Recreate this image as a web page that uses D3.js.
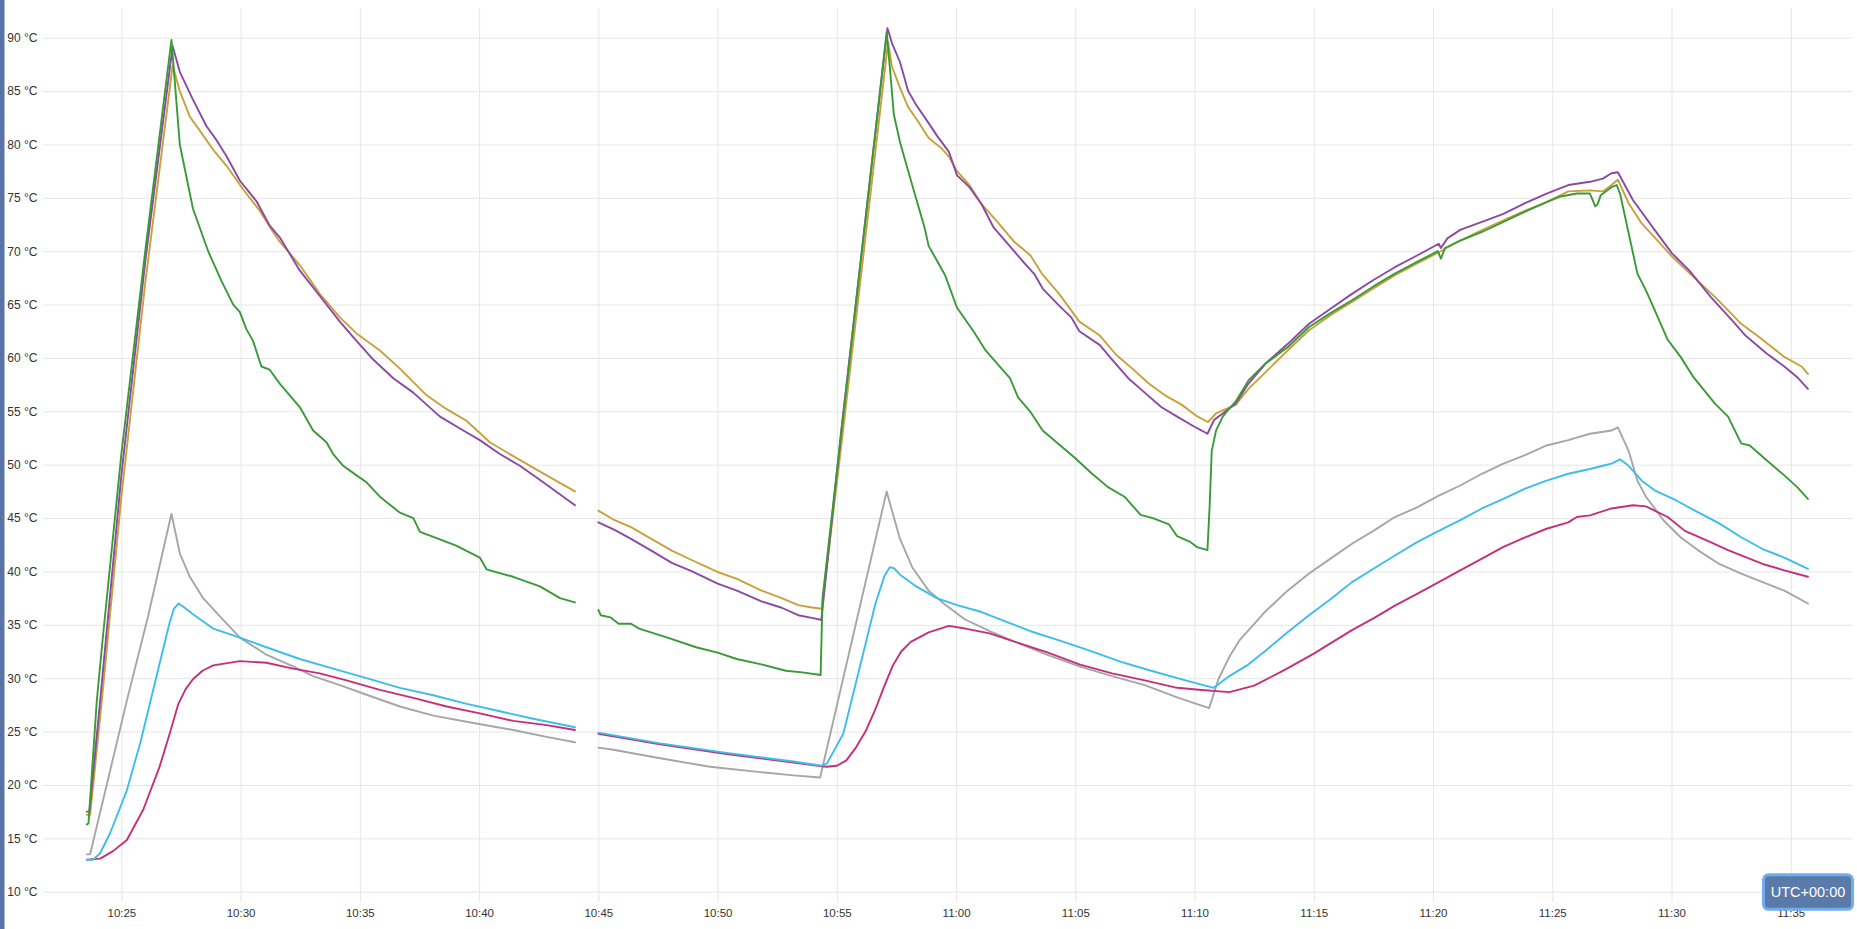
<!DOCTYPE html>
<html>
<head>
<meta charset="utf-8">
<script src="https://cdn.jsdelivr.net/npm/d3@7/dist/d3.min.js"></script>
<style>
  html, body { margin: 0; padding: 0; background: #fff; }
  svg { display: block; }
</style>
</head>
<body>
<svg id="chart" width="1857" height="929"></svg>
<script>
// ---- DATA (time = minutes after 10:00 UTC, value = °C; null = gap) ----
const xTickLabels = ["10:25","10:30","10:35","10:40","10:45","10:50","10:55","11:00","11:05","11:10","11:15","11:20","11:25","11:30","11:35"];
const yTickValues = [10,15,20,25,30,35,40,45,50,55,60,65,70,75,80,85,90];
const timeDomain = [22.133, 97.567];
const tempDomain = [10, 90];

const green = [
[23.55,16.3],[23.62,16.4],[23.97,27.9],[24.2,33.3],[25.0,51],[26.0,70],[27.1,89.8],
[27.45,80],[28.0,74],[28.64,70],[29.2,67.2],[29.69,65],[29.97,64.3],[30.24,62.7],[30.52,61.6],[30.87,59.2],[31.22,58.9],[31.64,57.6],[32.48,55.4],[33.04,53.2],[33.6,52.1],[33.88,51.0],[34.3,49.9],[34.86,49.0],[35.28,48.35],[35.84,47.0],[36.68,45.5],[37.24,45.0],[37.52,43.7],[38.36,43.0],[39.06,42.4],[40.03,41.3],[40.31,40.2],[41.43,39.5],[42.55,38.6],[43.39,37.5],[44.02,37.1],
[44.5,null],
[45.0,36.4],[45.1,35.9],[45.5,35.7],[45.85,35.1],[46.37,35.1],[46.71,34.65],[47.9,33.8],[49.1,32.9],[50.0,32.4],[50.8,31.8],[51.84,31.3],[52.86,30.7],[53.55,30.55],[54.32,30.3],
[54.4,37.5],[57.09,90.5],
[57.22,87.3],[57.39,82.8],[57.65,80.2],[58.16,76.2],[58.68,72.2],[58.85,70.5],[59.53,67.8],[60.04,64.7],[60.73,62.5],[61.24,60.7],[61.75,59.4],[62.26,58.1],[62.6,56.3],[63.1,55.0],[63.63,53.2],[64.32,51.9],[65.0,50.6],[65.68,49.2],[66.37,47.9],[67.06,47.0],[67.74,45.3],[68.25,45.0],[68.93,44.4],[69.27,43.3],[69.79,42.8],[70.13,42.25],[70.54,42.0],
[70.63,46.0],[70.72,51.3],[70.9,53.2],[71.18,54.5],[71.45,55.25],[71.72,55.9],[72.26,57.9],[72.99,59.5],[73.9,61.0],[74.8,62.9],[75.7,64.2],[76.6,65.4],[77.5,66.7],[78.4,67.9],[79.33,69.0],[80.2,70.0],[80.33,69.3],[80.5,70.3],[81.14,71.0],[82.05,71.8],[82.95,72.75],[83.86,73.7],[84.76,74.6],[85.3,75.1],[86.03,75.4],[86.58,75.4],[86.8,74.2],[86.9,74.4],[87.03,75.25],[87.48,76.0],[87.7,76.2],
[87.84,75.4],[88.2,71.7],[88.57,67.9],[88.93,66.3],[89.29,64.5],[89.84,61.7],[90.38,60.1],[90.92,58.2],[91.83,55.7],[92.37,54.5],[92.92,52.0],[93.28,51.8],[94.0,50.4],[94.73,49.0],[95.27,47.9],[95.72,46.8]
];

const purple = [
[23.55,17.5],[23.66,17.5],[24.11,27.9],[25.0,49],[26.0,69],[27.15,89.2],
[27.45,86.8],[28.0,84.2],[28.57,81.7],[28.99,80.4],[29.41,78.9],[29.97,76.6],[30.66,74.7],[31.22,72.4],[31.64,71.3],[32.48,68.2],[33.32,65.8],[34.16,63.4],[34.86,61.6],[35.56,59.85],[36.4,58.1],[37.24,56.75],[38.36,54.5],[39.34,53.2],[40.03,52.3],[40.87,51.0],[41.71,49.9],[42.69,48.35],[44.02,46.2],
[44.5,null],
[45.0,44.6],[45.68,43.9],[46.37,43.05],[47.22,41.95],[48.08,40.8],[48.93,40.0],[50.0,38.85],[50.81,38.2],[51.84,37.2],[52.69,36.6],[53.38,35.9],[54.06,35.6],[54.35,35.45],
[55.2,53.5],[57.12,90.9],
[57.31,89.5],[57.65,87.7],[57.99,85.0],[58.33,83.7],[58.85,82.0],[59.19,80.85],[59.7,79.3],[60.04,77.1],[60.56,76.0],[61.07,74.4],[61.58,72.2],[62.09,70.9],[62.78,69.1],[63.3,67.8],[63.63,66.5],[64.32,64.9],[64.83,63.8],[65.17,62.5],[66.03,61.2],[66.54,59.85],[67.22,58.1],[67.91,56.75],[68.6,55.4],[69.27,54.5],[69.96,53.6],[70.3,53.2],[70.54,52.9],
[70.82,54.2],[71.18,54.8],[71.72,55.7],[72.26,57.6],[72.99,59.5],[73.9,61.3],[74.8,63.2],[75.7,64.6],[76.6,66.0],[77.5,67.3],[78.4,68.5],[79.33,69.6],[80.24,70.7],[80.33,70.3],[80.6,71.2],[81.14,72.0],[82.05,72.75],[82.95,73.5],[83.86,74.5],[84.76,75.4],[85.67,76.2],[86.58,76.5],[87.12,76.8],[87.48,77.3],[87.75,77.4],
[88.38,74.8],[89.29,72.0],[90.02,69.8],[90.74,68.2],[91.65,65.7],[92.55,63.5],[93.1,62.1],[94.0,60.4],[94.73,59.2],[95.27,58.2],[95.72,57.1]
];

const gold = [
[23.55,17.2],[23.69,17.2],[24.18,27.9],[25.0,47],[26.0,67],[27.15,87.4],
[27.45,85.0],[27.87,82.6],[28.29,81.3],[28.85,79.5],[29.41,78.0],[30.1,75.8],[30.8,73.8],[31.36,71.8],[31.64,70.9],[32.48,68.7],[33.32,66.0],[34.16,63.8],[34.86,62.3],[35.84,60.7],[36.68,59.0],[37.8,56.5],[38.64,55.2],[39.48,54.1],[40.45,52.1],[41.43,50.8],[42.83,49.0],[44.02,47.5],
[44.5,null],
[45.0,45.7],[45.68,44.8],[46.37,44.15],[47.22,43.05],[48.08,41.95],[48.93,41.05],[50.0,39.95],[50.81,39.3],[51.84,38.2],[52.69,37.5],[53.38,36.85],[53.89,36.65],[54.37,36.5],
[55.25,53.0],[57.15,89.6],
[57.31,87.3],[57.65,85.3],[57.99,83.5],[58.33,82.4],[58.85,80.6],[59.36,79.7],[59.7,78.85],[60.04,77.5],[60.56,76.2],[61.07,74.4],[61.75,72.7],[62.43,70.9],[63.12,69.6],[63.63,67.8],[64.32,66.0],[65.17,63.4],[66.03,62.1],[66.71,60.3],[67.39,59.0],[68.08,57.6],[68.76,56.5],[69.44,55.65],[70.13,54.5],[70.56,54.0],
[70.9,54.8],[71.18,55.1],[71.72,55.6],[72.26,57.1],[72.99,58.7],[73.9,60.7],[74.8,62.6],[75.7,64.0],[76.6,65.25],[77.5,66.5],[78.4,67.75],[79.33,68.85],[80.24,69.9],[81.14,71.0],[82.05,71.97],[82.95,72.9],[83.86,73.8],[84.76,74.6],[85.67,75.6],[86.58,75.7],[87.12,75.6],[87.48,76.2],[87.75,76.7],
[88.2,74.5],[88.75,72.6],[89.29,71.3],[90.02,69.5],[90.92,67.6],[91.83,65.7],[92.92,63.2],[93.64,62.0],[94.73,60.1],[95.45,59.2],[95.72,58.5]
];

const gray = [
[23.55,13.5],[23.69,13.5],[25.23,27.9],[26.12,35.8],[27.1,45.4],
[27.45,41.7],[27.87,39.5],[28.43,37.5],[29.13,35.8],[29.97,33.8],[31.08,32.2],[32.2,31.1],[33.04,30.2],[34.16,29.35],[35.28,28.45],[36.68,27.35],[38.08,26.5],[39.76,25.8],[41.43,25.15],[42.83,24.5],[44.02,24.0],
[44.5,null],
[45.0,23.5],[45.63,23.3],[47.59,22.5],[49.68,21.7],[51.78,21.2],[53.18,20.9],[54.3,20.7],
[57.09,47.5],
[57.31,45.7],[57.65,43.05],[58.16,40.4],[58.85,38.2],[59.53,36.9],[60.38,35.5],[61.41,34.4],[62.6,33.3],[63.8,32.2],[65.17,31.1],[66.54,30.2],[67.91,29.35],[69.27,28.2],[70.61,27.2],
[71.0,29.9],[71.46,32.0],[71.9,33.6],[72.99,36.3],[73.9,38.2],[74.8,39.8],[75.7,41.2],[76.6,42.6],[77.5,43.8],[78.4,45.1],[79.33,46.0],[80.24,47.1],[81.14,48.05],[82.05,49.15],[82.95,50.1],[83.86,50.9],[84.76,51.8],[85.67,52.3],[86.58,52.9],[87.48,53.2],[87.75,53.5],
[88.2,51.3],[88.57,48.5],[88.93,47.0],[89.66,44.8],[90.38,43.2],[91.1,42.0],[92.0,40.7],[92.92,39.8],[93.82,39.0],[94.73,38.2],[95.72,37.0]
];

const cyan = [
[23.55,13.0],[23.81,13.0],[24.11,13.6],[24.53,15.5],[25.23,19.5],[25.8,24.0],[26.4,29.5],[27.0,35.0],[27.2,36.5],[27.4,37.0],[27.6,36.7],[28.0,36.0],[28.85,34.65],[29.97,33.8],[31.08,32.9],[32.48,31.8],[33.88,30.9],[35.28,30.0],[36.68,29.1],[38.08,28.4],[39.48,27.6],[40.87,26.9],[42.27,26.2],[44.02,25.4],
[44.5,null],
[45.0,24.9],[47.59,23.9],[50.38,23.0],[53.18,22.2],[54.37,21.8],[54.58,22.0],[55.27,24.8],[55.97,31.1],[56.62,37.0],[57.0,39.6],[57.22,40.4],[57.4,40.3],[57.65,39.7],
[58.33,38.6],[59.19,37.5],[60.04,36.85],[61.07,36.2],[62.09,35.3],[63.12,34.4],[64.32,33.55],[65.51,32.65],[66.88,31.55],[68.25,30.65],[69.62,29.8],[70.81,29.1],[71.46,30.2],[72.2,31.2],[72.99,32.6],[73.9,34.3],[74.8,35.9],[75.7,37.4],[76.6,39.0],[77.5,40.25],[78.4,41.5],[79.33,42.75],[80.24,43.8],[81.14,44.8],[82.05,45.9],[82.95,46.8],[83.86,47.75],[84.76,48.5],[85.67,49.15],[86.58,49.6],[87.12,49.9],[87.48,50.1],[87.84,50.5],
[88.2,49.9],[88.75,48.5],[89.29,47.6],[90.2,46.65],[91.1,45.55],[92.0,44.5],[92.92,43.2],[93.82,42.1],[94.73,41.3],[95.72,40.25]
];

const magenta = [
[23.55,13.0],[24.11,13.1],[24.65,13.8],[25.23,14.85],[25.92,17.7],[26.6,21.7],[27.0,24.6],[27.39,27.6],[27.7,29.0],[28.0,29.9],[28.4,30.7],[28.85,31.2],[29.97,31.6],[31.08,31.45],[32.2,30.9],[33.32,30.45],[34.44,29.8],[35.84,28.9],[37.24,28.15],[38.64,27.35],[40.03,26.7],[41.43,26.0],[42.83,25.6],[44.02,25.15],
[44.5,null],
[45.0,24.8],[47.59,23.8],[50.38,22.9],[53.18,22.1],[54.37,21.75],[54.58,21.7],[55.0,21.8],[55.4,22.3],[55.8,23.5],[56.2,25.0],[56.6,27.0],[57.0,29.3],[57.35,31.2],[57.7,32.5],[58.1,33.4],[58.85,34.3],[59.7,34.9],[60.38,34.65],[61.41,34.2],[62.6,33.3],[63.8,32.45],[65.17,31.3],[66.54,30.45],[67.91,29.8],[69.27,29.1],[70.3,28.9],[71.46,28.7],[72.5,29.3],[73.8,30.8],[75.0,32.3],[76.6,34.5],[77.5,35.6],[78.4,36.8],[79.33,37.9],[80.24,39.0],[81.14,40.1],[82.05,41.2],[82.95,42.3],[83.86,43.2],[84.76,44.0],[85.67,44.6],[86.03,45.1],[86.58,45.25],[87.48,45.9],[88.38,46.2],[88.93,46.1],
[89.29,45.7],[89.84,45.1],[90.56,43.8],[91.47,42.9],[92.37,42.0],[92.92,41.5],[93.82,40.7],[94.73,40.1],[95.72,39.5]
];

const seriesList = [
  { name: "gray",    data: gray,    color: "#a6a6a6" },
  { name: "magenta", data: magenta, color: "#c4307c" },
  { name: "cyan",    data: cyan,    color: "#3dbde9" },
  { name: "gold",    data: gold,    color: "#c9a03c" },
  { name: "purple",  data: purple,  color: "#8a4aa3" },
  { name: "green",   data: green,   color: "#3a9a37" }
];

const timezoneLabel = "UTC+00:00";

// ---- LAYOUT ----
const W = 1857, H = 929;
const plot = { left: 53, right: 1852, top: 8, bottom: 902 };
const T0 = Date.UTC(2024, 0, 1, 10, 0, 0);
const toDate = m => new Date(T0 + m * 60000);
const parseHM = s => { const [h, mi] = s.split(":").map(Number); return new Date(Date.UTC(2024, 0, 1, h, mi, 0)); };

const svg = d3.select("#chart");

const x = d3.scaleUtc().domain(timeDomain.map(toDate)).range([plot.left, plot.right]);
const y = d3.scaleLinear().domain(tempDomain).range([891.7, 37.7]);

// left accent bar
svg.append("rect").attr("x", 0).attr("y", 0).attr("width", 4.5).attr("height", H).attr("fill", "#5874a6");

// horizontal grid + y labels
const yAxis = d3.axisLeft(y).tickValues(yTickValues).tickSize(-(plot.right - 43)).tickPadding(0)
  .tickFormat(d => d + " °C");
const gy = svg.append("g").attr("transform", `translate(43,0)`).call(yAxis);
gy.select(".domain").remove();
gy.selectAll(".tick line").attr("stroke", "#e6e6e6").attr("stroke-width", 1);
gy.selectAll(".tick text").attr("x", -5.5).attr("fill", "#333")
  .style("font-family", "'Liberation Sans', Arial, sans-serif").style("font-size", "12px");

// vertical grid + x labels
const xAxis = d3.axisBottom(x).tickValues(xTickLabels.map(parseHM)).tickSize(-(plot.bottom - plot.top))
  .tickPadding(7).tickFormat(d3.utcFormat("%H:%M"));
const gx = svg.append("g").attr("transform", `translate(0,${plot.bottom})`).call(xAxis);
gx.select(".domain").remove();
gx.selectAll(".tick line").attr("stroke", "#e6e6e6").attr("stroke-width", 1);
gx.selectAll(".tick text").attr("fill", "#333")
  .style("font-family", "'Liberation Sans', Arial, sans-serif").style("font-size", "11.5px");

// lines
const line = d3.line()
  .defined(d => d[1] !== null)
  .x(d => x(toDate(d[0])))
  .y(d => y(d[1]));

svg.append("g").selectAll("path").data(seriesList).join("path")
  .attr("d", s => line(s.data))
  .attr("fill", "none")
  .attr("stroke", s => s.color)
  .attr("stroke-width", 1.9)
  .attr("stroke-linejoin", "round")
  .attr("stroke-linecap", "round");

// timezone badge
const badge = svg.append("g").attr("transform", "translate(1763.5,874.8)");
badge.append("rect").attr("width", 89).attr("height", 34.5).attr("rx", 5)
  .attr("fill", "#5a7aaa").attr("stroke", "#72acf0").attr("stroke-width", 3);
badge.append("text").attr("x", 44.5).attr("y", 17.5).attr("dy", "0.35em").attr("text-anchor", "middle")
  .attr("fill", "#fff").style("font-family", "'Liberation Sans', Arial, sans-serif").style("font-size", "14.5px")
  .text(timezoneLabel);
</script>
</body>
</html>
